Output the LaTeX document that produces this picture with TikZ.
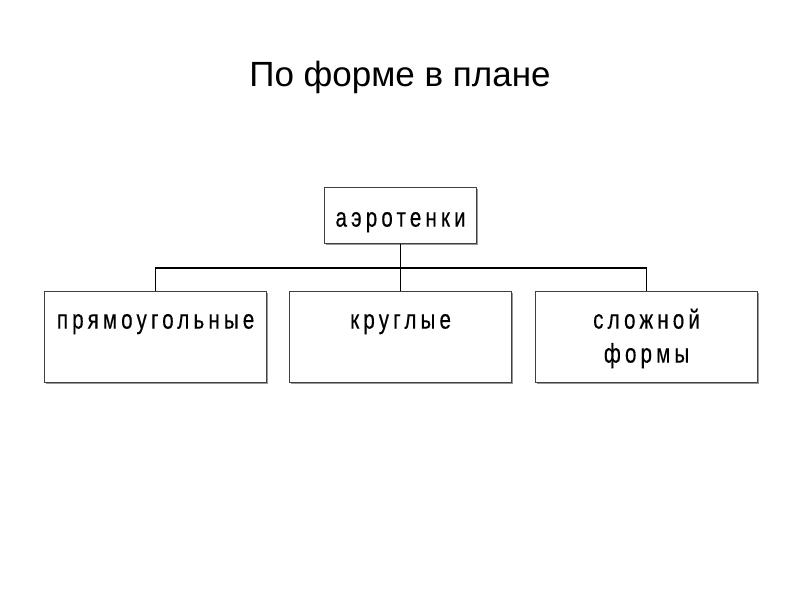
\documentclass[tikz,border=0pt]{standalone}
\usepackage{fontspec}
\setmainfont{Liberation Sans}
\newfontfamily\boxfont[FakeStretch=0.76,LetterSpace=15.5,FakeBold=0.4]{Liberation Sans}
\usetikzlibrary{shadows}
\begin{document}
\begin{tikzpicture}[x=1pt,y=-1pt,
  box/.style={draw=black!75, line width=1.2pt, fill=white, inner sep=0pt, anchor=north west,
    drop shadow={shadow xshift=1.2pt, shadow yshift=-1.2pt, opacity=1, fill=black!40}},
  conn/.style={draw=black, line width=1.2pt},
  ttl/.style={font=\fontsize{35}{40}\selectfont, anchor=base}]
\useasboundingbox[fill=white] (0,0) rectangle (800,600);
\node[ttl] (title) at (400,86) {По форме в плане};
\node[box] (top) at (324,187) {\parbox[c][56pt][t]{152pt}{\centering\boxfont\fontsize{27}{34}\selectfont\rule{0pt}{39pt}аэротенки}};
\node[box] (b1) at (44,291) {\parbox[c][91pt][t]{222pt}{\centering\boxfont\fontsize{27}{34}\selectfont\rule{0pt}{37pt}прямоугольные}};
\node[box] (b2) at (289,291) {\parbox[c][91pt][t]{222pt}{\centering\boxfont\fontsize{27}{34}\selectfont\rule{0pt}{37pt}круглые}};
\node[box] (b3) at (535,291) {\parbox[c][91pt][t]{222pt}{\centering\boxfont\fontsize{27}{34}\selectfont\rule{0pt}{37pt}сложной\\формы}};
\draw[conn] (top.south) -- (b2.north);
\draw[conn] (b1.north) -- ++(0,-23) -| (b3.north);
\end{tikzpicture}
\end{document}
